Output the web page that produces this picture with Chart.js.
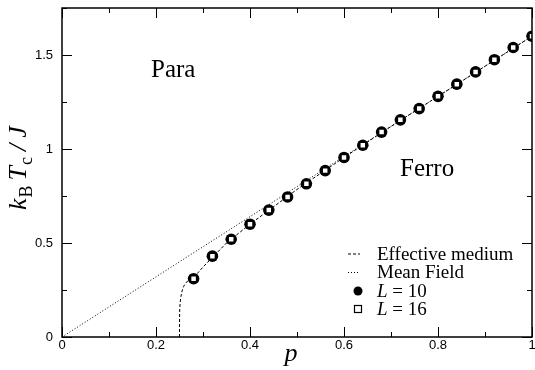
<!DOCTYPE html>
<html>
<head>
<meta charset="utf-8">
<script src="https://cdn.jsdelivr.net/npm/chart.js@4/dist/chart.umd.min.js"></script>
<style>
html,body{margin:0;padding:0;background:#fff;}
#wrap{width:535px;height:370px;position:relative;}
</style>
</head>
<body>
<div id="wrap"><canvas id="c" width="535" height="370"></canvas></div>
<script>
// Data
const pValues = [0.28,0.32,0.36,0.40,0.44,0.48,0.52,0.56,0.60,0.64,0.68,0.72,0.76,0.80,0.84,0.88,0.92,0.96,1.00];
const tcL10 = [0.31,0.43,0.52,0.60,0.675,0.745,0.815,0.885,0.955,1.02,1.09,1.155,1.215,1.28,1.345,1.41,1.475,1.54,1.60];
const tcL16 = [0.31,0.43,0.52,0.60,0.675,0.745,0.815,0.885,0.955,1.02,1.09,1.155,1.215,1.28,1.345,1.41,1.475,1.54,1.60];
const emP = [0.25,0.2501,0.2505,0.2515,0.253,0.2555,0.259,0.264,0.27,0.28,0.30,0.35,0.40,0.50,0.60,0.70,0.80,0.90,1.00];
const emT = [0,0.10,0.15,0.185,0.215,0.245,0.27,0.29,0.302,0.316,0.372,0.50,0.60,0.785,0.955,1.12,1.28,1.44,1.60];
const mfP = [0,1];
const mfT = [0,1.6];
const xTicks = [0,0.2,0.4,0.6,0.8,1];
const yTicks = [0,0.5,1,1.5];

const pts = (xs, ys) => xs.map((x,i)=>({x:x,y:ys[i]}));
const SERIF = '"Liberation Serif", "Times New Roman", serif';
const SANS = '"Liberation Sans", Arial, sans-serif';

const decor = {
  id:'decor',
  afterDatasetsDraw(chart){
    const ctx = chart.ctx, a = chart.chartArea;
    const xs = chart.scales.x, ys = chart.scales.y;
    ctx.save();
    ctx.strokeStyle = '#000';
    // frame
    ctx.lineWidth = 1.5;
    ctx.strokeRect(a.left, a.top, a.right - a.left, a.bottom - a.top);
    // inward ticks
    ctx.lineWidth = 1;
    for (let i=0;i<=10;i++){
      const v = i/10, px = Math.round(xs.getPixelForValue(v))+0.5;
      const len = (i%2===0)?10:5;
      ctx.beginPath();
      ctx.moveTo(px,a.bottom); ctx.lineTo(px,a.bottom-len);
      ctx.moveTo(px,a.top); ctx.lineTo(px,a.top+len);
      ctx.stroke();
    }
    for (let i=0;i<=7;i++){
      const v = i*0.25, py = Math.round(ys.getPixelForValue(v))+0.5;
      const len = (i%2===0)?10:5;
      ctx.beginPath();
      ctx.moveTo(a.left,py); ctx.lineTo(a.left+len,py);
      ctx.moveTo(a.right,py); ctx.lineTo(a.right-len,py);
      ctx.stroke();
    }
    // region labels
    ctx.fillStyle = '#000';
    ctx.textBaseline = 'alphabetic';
    ctx.textAlign = 'left';
    ctx.font = '25px ' + SERIF;
    ctx.fillText('Para', 151, 77);
    ctx.fillText('Ferro', 400, 176);

    // legend
    const lx0 = 348, lx1 = 360, tx = 377;
    const rows = [259.5, 278, 296.5, 314.5];
    ctx.font = '19px ' + SERIF;
    ctx.lineWidth = 1;
    ctx.setLineDash([3,2]);
    ctx.beginPath(); ctx.moveTo(lx0, rows[0]-5.5); ctx.lineTo(lx1, rows[0]-5.5); ctx.stroke();
    ctx.setLineDash([1,2]);
    ctx.beginPath(); ctx.moveTo(lx0, rows[1]-5.5); ctx.lineTo(lx1, rows[1]-5.5); ctx.stroke();
    ctx.setLineDash([]);
    ctx.fillText('Effective medium', tx, rows[0]);
    ctx.fillText('Mean Field', tx, rows[1]);
    ctx.beginPath(); ctx.arc(358, rows[2]-5.5, 4.5, 0, Math.PI*2); ctx.fill();
    ctx.lineWidth = 1.2;
    ctx.fillStyle = '#fff';
    ctx.fillRect(354.5, rows[3]-9, 7, 7);
    ctx.strokeRect(354.5, rows[3]-9, 7, 7);
    ctx.fillStyle = '#000';
    function lLabel(txt, y){
      ctx.font = 'italic 19px ' + SERIF;
      ctx.fillText('L', tx, y);
      const w = ctx.measureText('L').width;
      ctx.font = '19px ' + SERIF;
      ctx.fillText(' = ' + txt, tx + w, y);
    }
    lLabel('10', rows[2]);
    lLabel('16', rows[3]);

    // x title
    ctx.font = 'italic 26px ' + SERIF;
    ctx.textAlign = 'center';
    ctx.fillText('p', 291, 361);

    // y title (rotated), starts at y=210 and reads upward
    ctx.save();
    ctx.translate(26, 210);
    ctx.rotate(-Math.PI/2);
    const parts = [
      ['italic 26px ', 'k', 0, 0],
      ['18px ', 'B', 6, 1],
      ['italic 26px ', 'T', 0, 5],
      ['18px ', 'c', 6, 1],
      ['italic 26px ', '/', 0, 6],
      ['italic 26px ', 'J', 0, 6]
    ];
    let x = 0;
    ctx.textAlign = 'left';
    parts.forEach(p=>{
      ctx.font = p[0]+SERIF;
      x += p[3];
      ctx.fillText(p[1], x, p[2]);
      x += ctx.measureText(p[1]).width;
    });
    ctx.restore();
    ctx.restore();
  }
};

new Chart(document.getElementById('c'), {
  type:'scatter',
  data:{
    datasets:[
      {label:'L = 16', order:0, data:pts(pValues,tcL16), showLine:false, pointStyle:'rect', pointRadius:4.3, backgroundColor:'#fff', borderColor:'#000', borderWidth:1.6},
      {label:'L = 10', order:1, data:pts(pValues,tcL10), showLine:false, pointStyle:'circle', pointRadius:5.8, backgroundColor:'#000', borderColor:'#000', borderWidth:0},
      {label:'Effective medium', order:2, data:pts(emP,emT), showLine:true, borderColor:'#000', borderWidth:1, borderDash:[3,2], pointRadius:0, fill:false},
      {label:'Mean Field', order:3, data:pts(mfP,mfT), showLine:true, borderColor:'#000', borderWidth:1, borderDash:[1,2], pointRadius:0, fill:false}
    ]
  },
  options:{
    responsive:false,
    animation:false,
    layout:{autoPadding:false, padding:{left:0, top:8, right:3, bottom:0}},
    plugins:{legend:{display:false}, tooltip:{enabled:false}},
    scales:{
      x:{
        type:'linear', min:0, max:1,
        afterBuildTicks(s){ s.ticks = xTicks.map(v=>({value:v})); },
        afterFit(s){ s.height = 33; s.paddingLeft = 0; s.paddingRight = 0; },
        grid:{display:false, drawTicks:false},
        border:{display:false},
        ticks:{font:{family:SANS, size:13}, color:'#000', padding:1, maxRotation:0,
          callback:(v)=>String(v)}
      },
      y:{
        type:'linear', min:0, max:1.75,
        afterBuildTicks(s){ s.ticks = yTicks.map(v=>({value:v})); },
        afterFit(s){ s.width = 62; s.paddingTop = 0; s.paddingBottom = 0; },
        grid:{display:false, drawTicks:false},
        border:{display:false},
        ticks:{font:{family:SANS, size:13}, color:'#000', padding:9,
          callback:(v)=>String(v)}
      }
    }
  },
  plugins:[decor]
});
</script>
</body>
</html>
